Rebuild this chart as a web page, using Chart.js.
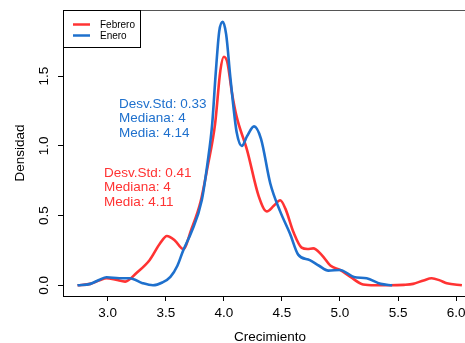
<!DOCTYPE html>
<html>
<head>
<meta charset="utf-8">
<script src="https://cdn.jsdelivr.net/npm/chart.js@4/dist/chart.umd.min.js"></script>
<style>
  html, body { margin: 0; padding: 0; background: #fff; overflow: hidden; }
  #wrap { width: 485px; height: 343px; }
</style>
</head>
<body>
<div id="wrap"><canvas id="grafico" width="485" height="343"></canvas></div>
<script>
// Densidades estimadas
const febreroX = [2.74, 2.85, 2.93, 2.99, 3.07, 3.15, 3.25, 3.36, 3.45, 3.51, 3.58, 3.65, 3.72, 3.8, 3.86, 3.925, 3.97, 4.0, 4.03, 4.07, 4.11, 4.2, 4.3, 4.37, 4.43, 4.485, 4.53, 4.6, 4.67, 4.72, 4.77, 4.84, 4.92, 5.0, 5.09, 5.2, 5.3, 5.43, 5.55, 5.63, 5.72, 5.79, 5.86, 5.92, 6.05];
const febreroY = [0, 0.01, 0.035, 0.05, 0.04, 0.026, 0.09, 0.18, 0.3, 0.354, 0.32, 0.26, 0.4, 0.6, 0.85, 1.16, 1.54, 1.64, 1.6, 1.38, 1.21, 0.97, 0.64, 0.53, 0.57, 0.61, 0.55, 0.38, 0.27, 0.26, 0.265, 0.22, 0.14, 0.11, 0.06, 0.005, 0, 0, 0.003, 0.01, 0.035, 0.05, 0.035, 0.014, 0];

const eneroX = [2.74, 2.85, 2.93, 2.99, 3.1, 3.19, 3.3, 3.39, 3.47, 3.54, 3.6, 3.65, 3.72, 3.81, 3.86, 3.9, 3.93, 3.96, 3.99, 4.02, 4.055, 4.08, 4.11, 4.155, 4.2, 4.26, 4.32, 4.4, 4.485, 4.57, 4.64, 4.74, 4.82, 4.9, 5.0, 5.12, 5.23, 5.35, 5.45];
const eneroY = [0, 0.01, 0.04, 0.057, 0.05, 0.05, 0.015, 0, 0.02, 0.06, 0.14, 0.25, 0.38, 0.61, 0.88, 1.16, 1.52, 1.82, 1.89, 1.8, 1.5, 1.3, 1.1, 1.0, 1.07, 1.14, 1.05, 0.73, 0.53, 0.37, 0.22, 0.18, 0.14, 0.105, 0.11, 0.06, 0.05, 0.01, 0];

const ticksX = [3.0, 3.5, 4.0, 4.5, 5.0, 5.5, 6.0];
const ticksY = [0.0, 0.5, 1.0, 1.5];

const series = ["Febrero", "Enero"];
const statsEnero = ["Desv.Std: 0.33", "Mediana: 4", "Media: 4.14"];
const statsFebrero = ["Desv.Std: 0.41", "Mediana: 4", "Media: 4.11"];

const ROJO = "rgb(255, 51, 51)";
const AZUL = "rgb(30, 112, 205)";
const FUENTE = "'Liberation Sans', Arial, sans-serif";

function puntos(xs, ys) {
  return xs.map((x, i) => ({ x: x, y: ys[i] }));
}

// Textos, leyenda y marco al estilo de R
const extras = {
  id: "extras",
  afterDraw(chart) {
    const ctx = chart.ctx;
    const a = chart.chartArea;
    const sy = chart.scales.y;
    ctx.save();

    // marco superior y derecho
    ctx.strokeStyle = "#555";
    ctx.lineWidth = 1;
    ctx.beginPath();
    ctx.moveTo(a.left, Math.round(a.top) + 0.5);
    ctx.lineTo(a.right + 0.5, Math.round(a.top) + 0.5);
    ctx.lineTo(a.right + 0.5, a.bottom);
    ctx.stroke();

    // etiquetas del eje y, giradas
    ctx.fillStyle = "#000";
    ctx.font = "13.5px " + FUENTE;
    ctx.textAlign = "center";
    ctx.textBaseline = "middle";
    for (const v of ticksY) {
      const py = sy.getPixelForValue(v);
      ctx.save();
      ctx.translate(44, py);
      ctx.rotate(-Math.PI / 2);
      ctx.fillText(v.toFixed(1), 0, 0);
      ctx.restore();
    }

    // títulos de los ejes
    ctx.save();
    ctx.translate(20, (a.top + a.bottom) / 2);
    ctx.rotate(-Math.PI / 2);
    ctx.fillText("Densidad", 0, 0);
    ctx.restore();
    ctx.fillText("Crecimiento", (a.left + a.right) / 2, 337);

    // anotaciones
    ctx.textAlign = "left";
    ctx.fillStyle = AZUL;
    statsEnero.forEach((t, i) => ctx.fillText(t, 119, 104 + i * 14.5));
    ctx.fillStyle = ROJO;
    statsFebrero.forEach((t, i) => ctx.fillText(t, 104, 173 + i * 14.5));

    // leyenda
    ctx.fillStyle = "#fff";
    ctx.fillRect(64, 11, 76, 36);
    ctx.strokeStyle = "#000";
    ctx.strokeRect(63.5, 10.5, 77, 37);
    const colores = [ROJO, AZUL];
    ctx.font = "10px " + FUENTE;
    series.forEach((s, i) => {
      const ly = 24.5 + i * 11;
      ctx.strokeStyle = colores[i];
      ctx.lineWidth = 2.5;
      ctx.beginPath();
      ctx.moveTo(73, ly);
      ctx.lineTo(90, ly);
      ctx.stroke();
      ctx.fillStyle = "#000";
      ctx.fillText(s, 100, ly + 0.5);
    });
    ctx.restore();
  }
};

new Chart(document.querySelector("#grafico"), {
  type: "line",
  data: {
    datasets: [
      {
        label: series[1],
        data: puntos(eneroX, eneroY),
        borderColor: AZUL,
        borderWidth: 2.6,
        pointRadius: 0,
        cubicInterpolationMode: "monotone",
        order: 0
      },
      {
        label: series[0],
        data: puntos(febreroX, febreroY),
        borderColor: ROJO,
        borderWidth: 2.6,
        pointRadius: 0,
        cubicInterpolationMode: "monotone",
        order: 1
      }
    ]
  },
  options: {
    responsive: false,
    animation: false,
    parsing: true,
    layout: { padding: { top: 10, right: 8, left: 0, bottom: 0 } },
    plugins: {
      legend: { display: false },
      tooltip: { enabled: false }
    },
    scales: {
      x: {
        type: "linear",
        min: 2.615,
        max: 6.18,
        afterBuildTicks: (s) => { s.ticks = ticksX.map((v) => ({ value: v })); },
        afterFit: (s) => { s.height = 47; },
        grid: { display: true, drawOnChartArea: false, drawTicks: true, tickLength: 5, color: "#000" },
        border: { display: true, color: "#000", width: 1 },
        ticks: {
          color: "#000",
          font: { family: FUENTE, size: 13.5 },
          padding: 4,
          maxRotation: 0,
          callback: (v) => Number(v).toFixed(1)
        }
      },
      y: {
        type: "linear",
        min: -0.077,
        max: 1.975,
        afterBuildTicks: (s) => { s.ticks = ticksY.map((v) => ({ value: v })); },
        afterFit: (s) => { s.width = 63; },
        grid: { display: true, drawOnChartArea: false, drawTicks: true, tickLength: 5, color: "#000" },
        border: { display: true, color: "#000", width: 1 },
        ticks: { display: false }
      }
    }
  },
  plugins: [extras]
});
</script>
</body>
</html>
